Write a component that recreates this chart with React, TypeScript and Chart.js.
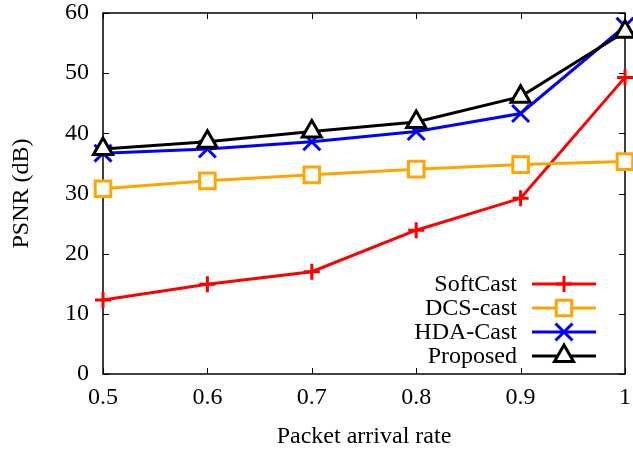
import React, { useEffect, useRef } from 'react';
import { Chart, registerables } from 'chart.js';

Chart.register(...registerables);

const rates = [0.5, 0.6, 0.7, 0.8, 0.9, 1.0];
const softCast = [12.3, 14.9, 17.0, 23.9, 29.2, 49.3];
const dcsCast = [30.8, 32.1, 33.1, 34.05, 34.8, 35.3];
const hdaCast = [36.7, 37.4, 38.6, 40.3, 43.3, 57.8];
const proposed = [37.4, 38.6, 40.3, 41.9, 46.1, 56.9];
const xTicks = [0.5, 0.6, 0.7, 0.8, 0.9, 1];
const yTicks = [0, 10, 20, 30, 40, 50, 60];
const seriesNames = ['SoftCast', 'DCS-cast', 'HDA-Cast', 'Proposed'];
const xTitle = 'Packet arrival rate';
const yTitle = 'PSNR (dB)';

const FONT = "'Liberation Serif', 'Times New Roman', serif";
const FS = 24;
const ZERO_PAD = () => ({ left: 0, top: 0, right: 0, bottom: 0 });

function drawMarker(ctx: CanvasRenderingContext2D, style: string, x: number, y: number, r: number, color: string, fill: string) {
  ctx.save();
  ctx.strokeStyle = color;
  ctx.fillStyle = fill;
  ctx.lineWidth = 3;
  ctx.beginPath();
  if (style === 'cross') {
    ctx.moveTo(x - r, y); ctx.lineTo(x + r, y);
    ctx.moveTo(x, y - r); ctx.lineTo(x, y + r);
    ctx.stroke();
  } else if (style === 'rect') {
    const s = Math.SQRT1_2 * r;
    ctx.rect(x - s, y - s, 2 * s, 2 * s);
    ctx.fill(); ctx.stroke();
  } else if (style === 'crossRot') {
    const d = Math.SQRT1_2 * r;
    ctx.moveTo(x - d, y - d); ctx.lineTo(x + d, y + d);
    ctx.moveTo(x + d, y - d); ctx.lineTo(x - d, y + d);
    ctx.stroke();
  } else if (style === 'triangle') {
    ctx.moveTo(x, y - r);
    ctx.lineTo(x + 0.866 * r, y + 0.5 * r);
    ctx.lineTo(x - 0.866 * r, y + 0.5 * r);
    ctx.closePath();
    ctx.fill(); ctx.stroke();
  }
  ctx.restore();
}

const framePlugin = {
  id: 'frame',
  beforeDatasetsDraw(chart: any) {
    const { ctx, chartArea: a, scales } = chart;
    ctx.save();
    ctx.strokeStyle = '#000';
    ctx.lineWidth = 1.5;
    ctx.strokeRect(a.left, a.top, a.right - a.left, a.bottom - a.top);
    ctx.lineWidth = 1;
    const t = 6;
    ctx.beginPath();
    for (const v of xTicks) {
      const px = Math.round(scales.x.getPixelForValue(v)) + 0.5;
      ctx.moveTo(px, a.bottom); ctx.lineTo(px, a.bottom - t);
      ctx.moveTo(px, a.top); ctx.lineTo(px, a.top + t);
    }
    for (const v of yTicks) {
      const py = Math.round(scales.y.getPixelForValue(v)) + 0.5;
      ctx.moveTo(a.left, py); ctx.lineTo(a.left + t, py);
      ctx.moveTo(a.right, py); ctx.lineTo(a.right - t, py);
    }
    ctx.stroke();
    ctx.restore();
  },
  afterDraw(chart: any) {
    const { ctx, chartArea: a } = chart;
    ctx.save();
    ctx.font = `${FS}px ${FONT}`;
    ctx.fillStyle = '#000';
    ctx.textAlign = 'right';
    ctx.textBaseline = 'middle';
    const textRight = a.right - 108;
    const lineL = a.right - 93;
    const lineR = a.right - 29;
    const mid = (lineL + lineR) / 2;
    chart.data.datasets.forEach((ds: any, i: number) => {
      const y = a.bottom - 90 + i * 24;
      ctx.fillText(ds.label, textRight, y + 1);
      ctx.strokeStyle = ds.borderColor;
      ctx.lineWidth = 3;
      ctx.beginPath();
      ctx.moveTo(lineL, y); ctx.lineTo(lineR, y);
      ctx.stroke();
      drawMarker(ctx, ds.pointStyle, mid, y, ds.pointRadius, ds.borderColor, ds.pointBackgroundColor);
    });
    ctx.restore();
  },
};

export default function App() {
  const ref = useRef<HTMLCanvasElement | null>(null);
  useEffect(() => {
    if (!ref.current) return;
    const mk = (label: string, vals: number[], color: string, style: string, r: number, order: number) => ({
      label,
      data: rates.map((x, i) => ({ x, y: vals[i] })),
      borderColor: color,
      backgroundColor: color,
      pointBackgroundColor: style === 'rect' || style === 'triangle' ? '#fff' : color,
      pointBorderColor: color,
      pointStyle: style,
      pointRadius: r,
      pointBorderWidth: 3,
      borderWidth: 3,
      clip: false,
      order,
    });
    const chart = new Chart(ref.current, {
      type: 'line',
      data: {
        datasets: [
          mk(seriesNames[0], softCast, '#ff0000', 'cross', 8, 3),
          mk(seriesNames[1], dcsCast, '#ffa500', 'rect', 11, 2),
          mk(seriesNames[2], hdaCast, '#0000ff', 'crossRot', 12, 1),
          mk(seriesNames[3], proposed, '#000000', 'triangle', 11, 0),
        ] as any,
      },
      options: {
        animation: false,
        responsive: false,
        events: [],
        layout: { autoPadding: false, padding: { top: 13, right: 8, left: 0, bottom: 0 } },
        plugins: { legend: { display: false }, tooltip: { enabled: false } },
        scales: {
          x: {
            type: 'linear',
            min: 0.5,
            max: 1,
            afterBuildTicks: (s: any) => { s.ticks = xTicks.map((v) => ({ value: v })); },
            afterFit: (s: any) => { s.height = 79; s.paddingLeft = 0; s.paddingRight = 0; s.getPadding = ZERO_PAD; },
            grid: { display: false, drawTicks: false },
            border: { display: false },
            ticks: {
              color: '#000',
              font: { family: FONT, size: FS },
              padding: 9,
              maxRotation: 0,
              callback: (v: any) => (v === 1 ? '1' : Number(v).toFixed(1)),
            },
            title: { display: true, text: xTitle, color: '#000', font: { family: FONT, size: FS, lineHeight: 1.2 }, padding: { top: 0, bottom: 2 } },
          },
          y: {
            min: 0,
            max: 60,
            afterBuildTicks: (s: any) => { s.ticks = yTicks.map((v) => ({ value: v })); },
            afterFit: (s: any) => { s.width = 103; s.paddingTop = 0; s.paddingBottom = 0; s.getPadding = ZERO_PAD; },
            grid: { display: false, drawTicks: false },
            border: { display: false },
            ticks: { color: '#000', font: { family: FONT, size: FS }, padding: 14 },
            title: { display: true, text: yTitle, color: '#000', font: { family: FONT, size: FS, lineHeight: 1.2 }, padding: { top: 7, bottom: 0 } },
          },
        },
      } as any,
      plugins: [framePlugin],
    });
    return () => chart.destroy();
  }, []);
  return (
    <div style={{ position: 'absolute', left: 0, top: 0, width: 633, height: 453, background: '#fff' }}>
      <canvas ref={ref} width={633} height={453} />
    </div>
  );
}
